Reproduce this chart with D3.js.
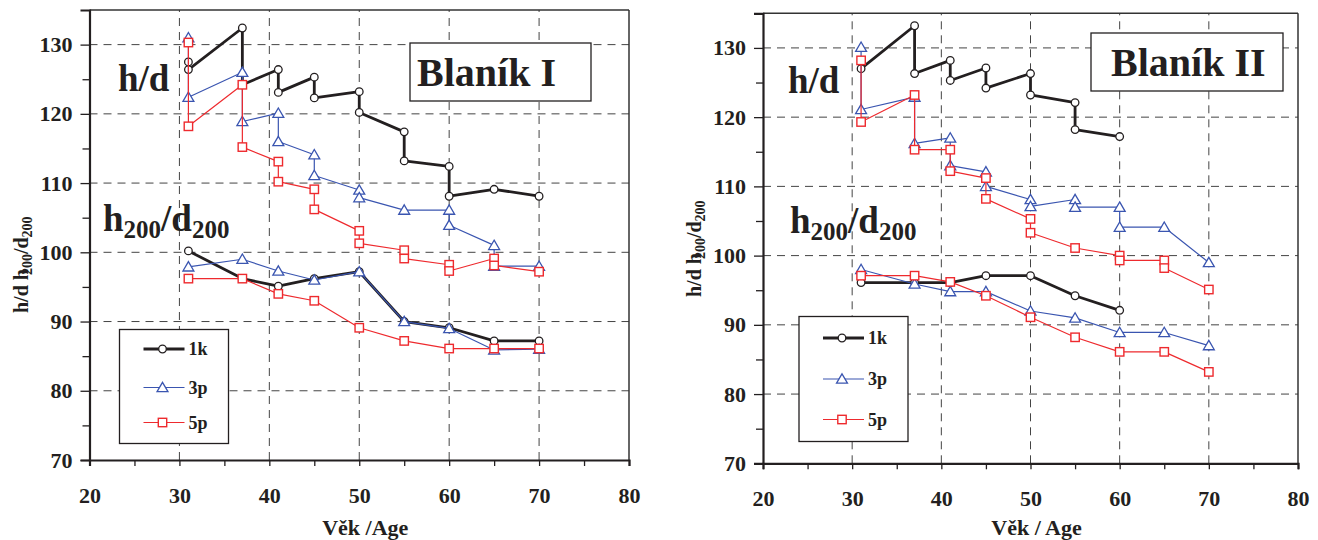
<!DOCTYPE html>
<html><head><meta charset="utf-8">
<script src="https://cdn.jsdelivr.net/npm/d3@7"></script>
<style>body{margin:0;background:#fff;} svg{display:block;} text{font-family:"Liberation Serif","Times New Roman",serif;font-weight:bold;fill:#231f20;}</style>
</head><body><svg id="c" width="1318" height="540"></svg>
<script>
// ---- data ----
const xTicks = [20, 30, 40, 50, 60, 70, 80];
const yTicks = [70, 80, 90, 100, 110, 120, 130];
const seriesNames = ["1k", "3p", "5p"];

// Blaník I  h/d
const L_1k_hd_age = [31,31,37,37,41,41,45,45,50,50,55,55,60,60,65,70];
const L_1k_hd     = [127.5,126.4,132.4,124.2,126.4,123.1,125.3,122.3,123.2,120.2,117.4,113.2,112.4,108.1,109.1,108.1];
const L_3p_hd_age = [31,31,37,37,41,41,45,45,50,50,55,60,60,65,65,70];
const L_3p_hd     = [131,122.4,126,118.9,120.1,116,114.1,111.1,109,107.9,106.1,106.1,103.9,101,98,98];
const L_5p_hd_age = [31,31,37,37,41,41,45,45,50,50,55,55,60,60,65,65,70];
const L_5p_hd     = [130.3,118.2,124.2,115.2,113.1,110.2,109.1,106.2,103.1,101.3,100.3,99.1,98.2,97.3,99.1,98.1,97.2];
// Blaník I  h200/d200
const L_h200_age  = [31,37,41,45,50,55,60,65,70];
const L_1k_h200   = [100.2,96.2,95.1,96.2,97.2,90,89.1,87.2,87.2];
const L_3p_h200   = [97.9,99,97.3,96,97.2,90,89,85.9,86];
const L_5p_h200   = [96.2,96.2,94,93,89.1,87.2,86.1,86.1,86.1];

// Blaník II  h/d
const R_1k_hd_age = [31,37,37,41,41,45,45,50,50,55,55,60];
const R_1k_hd     = [127,133.2,126.3,128.2,125.3,127.1,124.2,126.3,123.2,122.1,118.2,117.2];
const R_3p_hd_age = [31,31,37,37,41,41,45,45,50,50,55,55,60,60,65,70];
const R_3p_hd     = [130.1,121.1,122.9,116.2,117,113,112.1,110,108.1,107.1,108.1,107,107,104.1,104.1,99];
const R_5p_hd_age = [31,31,37,37,41,41,45,45,50,50,55,60,60,65,65,70];
const R_5p_hd     = [128.2,119.3,123.2,115.3,115.3,112.2,111.2,108.2,105.3,103.3,101.1,100,99.3,99.3,98.2,95.1];
// Blaník II  h200/d200
const R_1k_h200_age = [31,37,41,45,50,55,60];
const R_1k_h200     = [96.1,96.1,96.1,97.1,97.1,94.2,92.1];
const R_h200_age    = [31,37,41,45,50,55,60,65,70];
const R_3p_h200     = [98,95.9,94.8,94.8,92,91,88.9,88.9,87];
const R_5p_h200     = [97.1,97.1,96.2,94.2,91.1,88.2,86.1,86.1,83.2];

const colors = {"1k":"#231f20","3p":"#3a55b0","5p":"#ee2a2e"};
const widths = {"1k":2.8,"3p":1.2,"5p":1.2};
const SERIF = "'Liberation Serif','Times New Roman',serif";

const svg = d3.select("#c");

function zip(a, b){ return a.map((x,i)=>[x,b[i]]); }

function marker(g, type, x, y){
  const c = colors[type];
  if(type==="1k"){
    g.append("circle").attr("cx",x).attr("cy",y).attr("r",3.8).attr("fill","#fff").attr("stroke",c).attr("stroke-width",1.3);
  } else if(type==="3p"){
    const s=5.2;
    g.append("path").attr("d",`M${x},${y-s}L${x+s*1.05},${y+s*0.8}L${x-s*1.05},${y+s*0.8}Z`).attr("fill","#fff").attr("stroke",c).attr("stroke-width",1.3);
  } else {
    const s=4.2;
    g.append("rect").attr("x",x-s).attr("y",y-s).attr("width",2*s).attr("height",2*s).attr("fill","#fff").attr("stroke",c).attr("stroke-width",1.4);
  }
}

function panel(cfg){
  const x = d3.scaleLinear().domain([20,80]).range([cfg.x0,cfg.x1]);
  const y = d3.scaleLinear().domain([70,135]).range([cfg.y0,cfg.y1]);
  const g = svg.append("g");
  // grid
  g.append("g").selectAll("line").data(xTicks.filter(v=>v>20&&v<80)).join("line")
    .attr("x1",d=>x(d)).attr("x2",d=>x(d)).attr("y1",cfg.y0).attr("y2",cfg.y1)
    .attr("stroke","#444").attr("stroke-width",1).attr("stroke-dasharray","8,6");
  g.append("g").selectAll("line").data(yTicks.filter(v=>v>70)).join("line")
    .attr("x1",cfg.x0).attr("x2",cfg.x1).attr("y1",d=>y(d)).attr("y2",d=>y(d))
    .attr("stroke","#444").attr("stroke-width",1).attr("stroke-dasharray","8,6");
  // frame
  g.append("line").attr("x1",cfg.x0).attr("x2",cfg.x1).attr("y1",cfg.y1).attr("y2",cfg.y1).attr("stroke","#333").attr("stroke-width",1.5);
  g.append("line").attr("x1",cfg.x1).attr("x2",cfg.x1).attr("y1",cfg.y1).attr("y2",cfg.y0).attr("stroke","#333").attr("stroke-width",1.5);
  // axes
  g.append("g").attr("transform",`translate(${cfg.x0},0)`)
    .call(d3.axisLeft(y).tickValues(yTicks).tickSize(9).tickPadding(8).tickFormat(d3.format("d")));
  g.append("g").attr("transform",`translate(${cfg.x0},0)`)
    .call(d3.axisLeft(y).tickValues([75,85,95,105,115,125]).tickSize(7).tickFormat(""))
    .select(".domain").remove();
  g.append("g").attr("transform",`translate(0,${cfg.y0})`)
    .call(d3.axisBottom(x).tickValues(xTicks).tickSize(6).tickPadding(21).tickFormat(d3.format("d")));
  g.append("g").attr("transform",`translate(0,${cfg.y0})`)
    .call(d3.axisBottom(x).tickValues([25,35,45,55,65,75]).tickSize(6).tickFormat(""))
    .select(".domain").remove();
  g.selectAll(".domain").attr("stroke","#231f20").attr("stroke-width",2.2);
  g.selectAll(".tick line").attr("stroke","#231f20").attr("stroke-width",1.3);
  g.selectAll(".tick text").attr("font-size",22).attr("font-family",SERIF).attr("font-weight","bold")
    .style("font-size","22px").attr("fill","#231f20");

  // series
  const line = d3.line().x(d=>x(d[0])).y(d=>y(d[1]));
  cfg.series.forEach(s=>{
    const pts = zip(s.age, s.val);
    g.append("path").attr("d",line(pts)).attr("fill","none").attr("stroke",colors[s.type]).attr("stroke-width",widths[s.type]).attr("stroke-linejoin","round");
    pts.forEach(p=>marker(g, s.type, x(p[0]), y(p[1])));
  });

  // big labels
  g.append("text").attr("x",cfg.hdX).attr("y",cfg.hdY).style("font-size","37px").text("h/d");
  const t2 = g.append("text").attr("x",cfg.h2X).attr("y",cfg.h2Y).style("font-size","37px");
  t2.append("tspan").text("h");
  t2.append("tspan").attr("dy",7).style("font-size","25px").text("200");
  t2.append("tspan").attr("dy",-7).text("/d");
  t2.append("tspan").attr("dy",7).style("font-size","25px").text("200");

  // title box
  g.append("rect").attr("x",cfg.bx).attr("y",cfg.by).attr("width",cfg.bw).attr("height",cfg.bh).attr("fill","#fff").attr("stroke","#231f20").attr("stroke-width",1.3);
  g.append("text").attr("x",cfg.tx).attr("y",cfg.by+cfg.bh/2+14).style("font-size","40px").text(cfg.title);

  // legend
  g.append("rect").attr("x",cfg.lx).attr("y",cfg.ly).attr("width",cfg.lw).attr("height",cfg.lh).attr("fill","#fff").attr("stroke","#231f20").attr("stroke-width",1.3);
  seriesNames.forEach((n,i)=>{
    const yy = cfg.legY[i];
    g.append("line").attr("x1",cfg.lx+24).attr("x2",cfg.lx+65).attr("y1",yy).attr("y2",yy).attr("stroke",colors[n]).attr("stroke-width",widths[n]);
    marker(g, n, cfg.lx+43, yy);
    g.append("text").attr("x",cfg.lx+69).attr("y",yy+6).style("font-size","18px").text(n);
  });

  // axis titles
  g.append("text").attr("x",(cfg.x0+cfg.x1)/2+6).attr("y",535).attr("text-anchor","middle").style("font-size","22px").text(cfg.xTitle);
  const yt = g.append("text").attr("transform",`translate(${cfg.ylX},${cfg.ylY}) rotate(-90)`).style("font-size","20px");
  yt.append("tspan").text("h/d  h");
  yt.append("tspan").attr("dy",4).attr("dx",-6).style("font-size","14px").text("200");
  yt.append("tspan").attr("dy",-4).text("/d");
  yt.append("tspan").attr("dy",4).style("font-size","14px").text("200");
}

panel({x0:89.5,x1:629,y0:460,y1:10,title:"Blaník I",xTitle:"Věk /Age",
  bx:410,by:43,bw:181,bh:58,tx:417,
  lx:119.5,ly:329.5,lw:109,lh:114,legY:[349,387.5,422.5],
  hdX:118,hdY:91,h2X:103,h2Y:231,ylX:28,ylY:313,
  series:[
    {type:"1k",age:L_1k_hd_age,val:L_1k_hd},
    {type:"1k",age:L_h200_age,val:L_1k_h200},
    {type:"3p",age:L_3p_hd_age,val:L_3p_hd},
    {type:"3p",age:L_h200_age,val:L_3p_h200},
    {type:"5p",age:L_5p_hd_age,val:L_5p_hd},
    {type:"5p",age:L_h200_age,val:L_5p_h200}
  ]});

panel({x0:763,x1:1298,y0:463.3,y1:13.3,title:"Blaník II",xTitle:"Věk / Age",
  bx:1091,by:33,bw:192,bh:58,tx:1111,
  lx:799,ly:316.5,lw:109,lh:125,legY:[338,379,419.5],
  hdX:788,hdY:93,h2X:790,h2Y:233,ylX:701,ylY:297,
  series:[
    {type:"1k",age:R_1k_hd_age,val:R_1k_hd},
    {type:"1k",age:R_1k_h200_age,val:R_1k_h200},
    {type:"3p",age:R_3p_hd_age,val:R_3p_hd},
    {type:"3p",age:R_h200_age,val:R_3p_h200},
    {type:"5p",age:R_5p_hd_age,val:R_5p_hd},
    {type:"5p",age:R_h200_age,val:R_5p_h200}
  ]});
</script></body></html>
